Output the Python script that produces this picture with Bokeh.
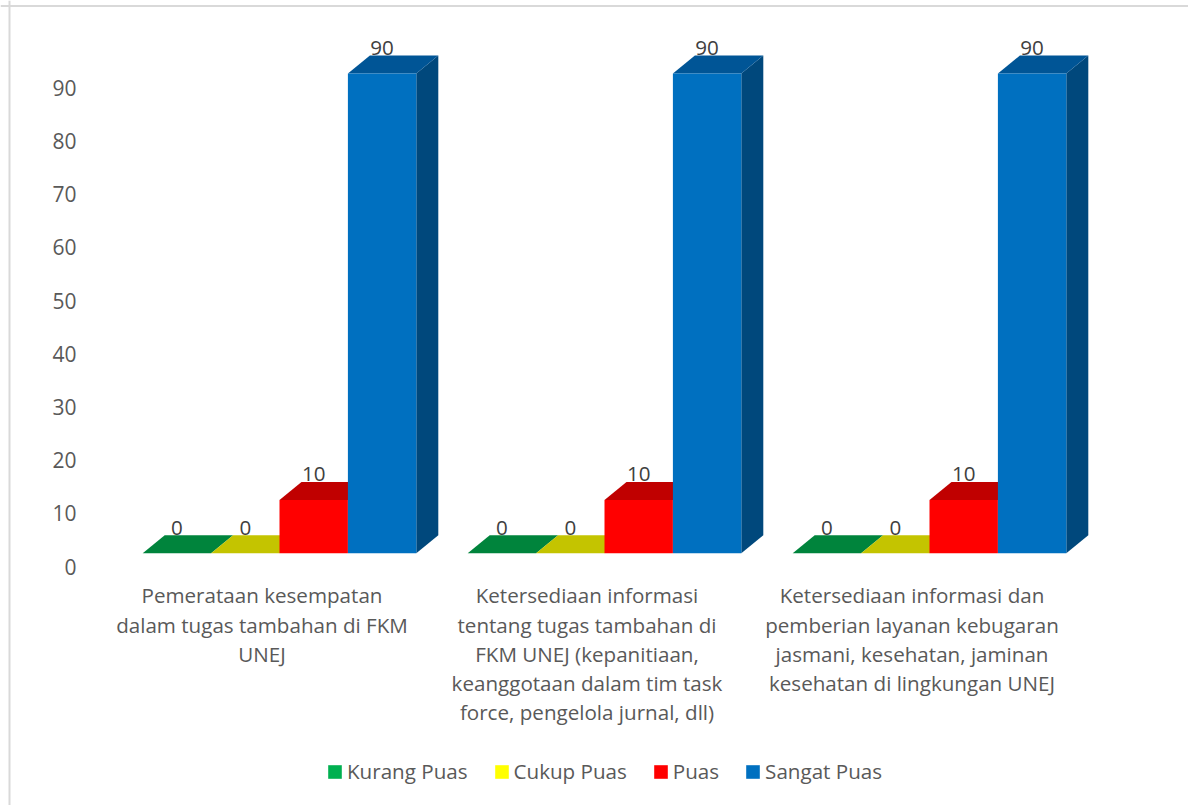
from bokeh.embed import file_html
from bokeh.models import FixedTicker, Legend, LegendItem, LinearAxis, Range1d, Span
from bokeh.plotting import figure
from bokeh.resources import INLINE
from bokeh.core.properties import value

# Survey results, percentage of respondents per satisfaction level
categories = [
    "Pemerataan kesempatan\ndalam tugas tambahan di FKM\nUNEJ",
    "Ketersediaan informasi\ntentang tugas tambahan di\nFKM UNEJ (kepanitiaan,\nkeanggotaan dalam tim task\nforce, pengelola jurnal, dll)",
    "Ketersediaan informasi dan\npemberian layanan kebugaran\njasmani, kesehatan, jaminan\nkesehatan di lingkungan UNEJ",
]
series_names = ["Kurang Puas", "Cukup Puas", "Puas", "Sangat Puas"]
kurang_puas = [0, 0, 0]
cukup_puas = [0, 0, 0]
puas = [10, 10, 10]
sangat_puas = [90, 90, 90]
series_values = [kurang_puas, cukup_puas, puas, sangat_puas]
y_ticks = [0, 10, 20, 30, 40, 50, 60, 70, 80, 90]

front_colors = ["#00B050", "#FFFF00", "#FF0000", "#0070C0"]
top_colors = ["#00843C", "#C4C400", "#C00000", "#005596"]
side_colors = ["#00703A", "#A0A000", "#9A0000", "#00487C"]

WIDTH, HEIGHT = 1188, 805
PX_PER_CAT = 325.0
PX_PER_UNIT = 5.33
FIRST_CENTER = 279.0
FLOOR_Y = 552.7
AXIS_X = 88
AXIS_ZERO_Y = 566.0
FONT_PX = "20.6px"

BAR_W = 68.4 / PX_PER_CAT
DEPTH_X = 22.0 / PX_PER_CAT
DEPTH_Y = 18.0 / PX_PER_UNIT
LABEL_LIFT = 25.5 / PX_PER_UNIT
CAPTION_SHIFT = -17.5 / PX_PER_CAT

x_start = -FIRST_CENTER / PX_PER_CAT
x_end = (WIDTH - FIRST_CENTER) / PX_PER_CAT
y_start = -(HEIGHT - FLOOR_Y) / PX_PER_UNIT
y_end = FLOOR_Y / PX_PER_UNIT

p = figure(
    width=WIDTH, height=HEIGHT, output_backend="svg", toolbar_location=None,
    x_range=Range1d(x_start, x_end), y_range=Range1d(y_start, y_end),
    min_border_left=0, min_border_right=0, min_border_top=0, min_border_bottom=0,
    outline_line_color=None, background_fill_color="white", border_fill_color="white",
)
p.grid.visible = False
p.xaxis.visible = False
p.yaxis.visible = False

# The value axis sits a little below the bars' front floor edge, as in a 3D column chart
p.extra_y_ranges["labels"] = Range1d(-(HEIGHT - AXIS_ZERO_Y) / 5.32, AXIS_ZERO_Y / 5.32)
axis = LinearAxis(
    y_range_name="labels", ticker=FixedTicker(ticks=y_ticks),
    fixed_location=(AXIS_X - FIRST_CENTER) / PX_PER_CAT,
    axis_line_color=None, major_tick_line_color=None, minor_tick_line_color=None,
    major_label_text_font="Open Sans", major_label_text_font_size="21px",
    major_label_text_color="#595959", major_label_standoff=6,
)
p.add_layout(axis, "left")

# Draw each column as three faces, left to right so later columns overlap earlier ones
legend_items = []
for s, (name, vals) in enumerate(zip(series_names, series_values)):
    lefts = [i + (s - 2) * BAR_W for i in range(len(vals))]
    rights = [l + BAR_W for l in lefts]
    side_xs = [[r, r + DEPTH_X, r + DEPTH_X, r] for r in rights]
    side_ys = [[0, DEPTH_Y, v + DEPTH_Y, v] for v in vals]
    top_xs = [[l, l + DEPTH_X, r + DEPTH_X, r] for l, r in zip(lefts, rights)]
    top_ys = [[v, v + DEPTH_Y, v + DEPTH_Y, v] for v in vals]
    p.patches(side_xs, side_ys, fill_color=side_colors[s], line_color=None)
    p.patches(top_xs, top_ys, fill_color=top_colors[s], line_color=None)
    front = p.vbar(
        x=[(l + r) / 2 for l, r in zip(lefts, rights)], width=BAR_W, bottom=0, top=vals,
        fill_color=front_colors[s], line_color=None,
    )
    legend_items.append(LegendItem(label=name, renderers=[front]))
    p.text(
        x=[l + BAR_W / 2 for l in lefts],
        y=[v + LABEL_LIFT for v in vals],
        text=[str(v) for v in vals],
        text_font=value("Open Sans"), text_font_size=FONT_PX, text_color="#404040",
        text_align="center", text_baseline="middle",
    )

# Category captions under each group of columns
p.text(
    x=[i + CAPTION_SHIFT for i in range(len(categories))], y=[-5.3] * len(categories), text=categories,
    text_font=value("Open Sans"), text_font_size=FONT_PX, text_color="#595959",
    text_align="center", text_baseline="top", text_line_height=1.04,
)

legend = Legend(
    items=legend_items, orientation="horizontal", location=(326, 20),
    border_line_color=None, background_fill_alpha=0,
    label_text_font="Open Sans", label_text_font_size=FONT_PX, label_text_color="#595959",
    glyph_width=17, glyph_height=17, label_standoff=4, spacing=25, margin=0, padding=0,
)
p.add_layout(legend, "center")

# Thin grey chart border along the top and left
p.add_layout(Span(location=HEIGHT - 5.5, location_units="screen", dimension="width",
                  line_color="#D9D9D9", line_width=2))
p.add_layout(Span(location=9, location_units="screen", dimension="height",
                  line_color="#D9D9D9", line_width=2))

open("out.html", "w").write(file_html(p, INLINE))
